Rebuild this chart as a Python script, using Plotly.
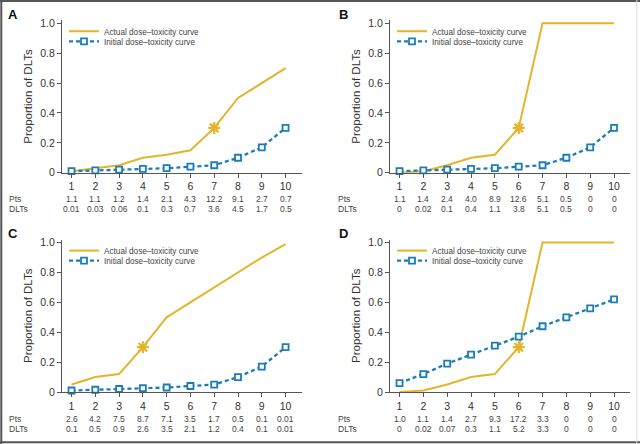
import plotly.graph_objects as go

doses = [1, 2, 3, 4, 5, 6, 7, 8, 9, 10]

actual_A = [0.01, 0.03, 0.05, 0.10, 0.12, 0.15, 0.30, 0.50, 0.60, 0.70]
initial_A = [0.01, 0.015, 0.02, 0.025, 0.03, 0.04, 0.05, 0.10, 0.17, 0.30]
pts_A = ["1.1", "1.1", "1.2", "1.4", "2.1", "4.3", "12.2", "9.1", "2.7", "0.7"]
dlts_A = ["0.01", "0.03", "0.06", "0.1", "0.3", "0.7", "3.6", "4.5", "1.7", "0.5"]
mtd_A = 7

actual_B = [0.0, 0.01, 0.05, 0.10, 0.12, 0.30, 1.0, 1.0, 1.0, 1.0]
initial_B = [0.01, 0.015, 0.02, 0.025, 0.03, 0.04, 0.05, 0.10, 0.17, 0.30]
pts_B = ["1.1", "1.4", "2.4", "4.0", "8.9", "12.6", "5.1", "0.5", "0", "0"]
dlts_B = ["0", "0.02", "0.1", "0.4", "1.1", "3.8", "5.1", "0.5", "0", "0"]
mtd_B = 6

actual_C = [0.05, 0.10, 0.12, 0.30, 0.50, 0.60, 0.70, 0.80, 0.90, 0.99]
initial_C = [0.01, 0.015, 0.02, 0.025, 0.03, 0.04, 0.05, 0.10, 0.17, 0.30]
pts_C = ["2.6", "4.2", "7.5", "8.7", "7.1", "3.5", "1.7", "0.5", "0.1", "0.01"]
dlts_C = ["0.1", "0.5", "0.9", "2.6", "3.5", "2.1", "1.2", "0.4", "0.1", "0.01"]
mtd_C = 4

actual_D = [0.0, 0.01, 0.05, 0.10, 0.12, 0.30, 1.0, 1.0, 1.0, 1.0]
initial_D = [0.06, 0.12, 0.19, 0.25, 0.31, 0.37, 0.44, 0.50, 0.56, 0.62]
pts_D = ["1.0", "1.1", "1.4", "2.7", "9.3", "17.2", "3.3", "0", "0", "0"]
dlts_D = ["0", "0.02", "0.07", "0.3", "1.1", "5.2", "3.3", "0", "0", "0"]
mtd_D = 6

panel_letters = ["A", "B", "C", "D"]
legend_actual = "Actual dose–toxicity curve"
legend_initial = "Initial dose–toxicity curve"
y_title = "Proportion of DLTs"
ytick_vals = [0, 0.2, 0.4, 0.6, 0.8, 1.0]
ytick_text = ["0", "0.2", "0.4", "0.6", "0.8", "1.0"]

GOLD = "#E3B52B"
BLUE = "#1B7DB6"
AXC = "#555555"
TXT = "#333333"
W, H = 640, 444

panels = [
    dict(actual=actual_A, initial=initial_A, pts=pts_A, dlts=dlts_A, mtd=mtd_A,
         left=62, right=301.5, bottom=172.7, label_x=7, letter_xy=(13, 15)),
    dict(actual=actual_B, initial=initial_B, pts=pts_B, dlts=dlts_B, mtd=mtd_B,
         left=390, right=630, bottom=172.7, label_x=336, letter_xy=(343, 14)),
    dict(actual=actual_C, initial=initial_C, pts=pts_C, dlts=dlts_C, mtd=mtd_C,
         left=62, right=301.5, bottom=392, label_x=7, letter_xy=(13, 233)),
    dict(actual=actual_D, initial=initial_D, pts=pts_D, dlts=dlts_D, mtd=mtd_D,
         left=390, right=630, bottom=392, label_x=336, letter_xy=(343, 233)),
]

PX_PER_UNIT = 149.4
YMAX = 1.02

fig = go.Figure()
annotations = []
layout = dict(
    width=W, height=H, margin=dict(l=0, r=0, t=0, b=0, autoexpand=False),
    paper_bgcolor="white", plot_bgcolor="white",
    font=dict(family="Arial, Liberation Sans, sans-serif", color=TXT),
    showlegend=True,
)

for i, p in enumerate(panels):
    n = i + 1
    xa = "x" if n == 1 else f"x{n}"
    ya = "y" if n == 1 else f"y{n}"
    la = "legend" if n == 1 else f"legend{2 * n - 1}"
    lb = f"legend{2 * n}"
    top = p["bottom"] - YMAX * PX_PER_UNIT
    dom_x = [p["left"] / W, p["right"] / W]
    dom_y = [1 - p["bottom"] / H, 1 - top / H]

    fig.add_trace(go.Scatter(
        x=doses, y=p["actual"], mode="lines", name=legend_actual,
        line=dict(color=GOLD, width=2), cliponaxis=False,
        xaxis=xa, yaxis=ya, legend=la))
    fig.add_trace(go.Scatter(
        x=doses, y=p["initial"], mode="lines+markers", name=legend_initial,
        line=dict(color=BLUE, width=2.3, dash="4px,3px"),
        marker=dict(symbol="square", size=6, color="white",
                    line=dict(color=BLUE, width=1.8)),
        cliponaxis=False, xaxis=xa, yaxis=ya, legend=lb))
    k = doses.index(p["mtd"])
    fig.add_trace(go.Scatter(
        x=[doses[k]], y=[p["actual"][k]], mode="markers", showlegend=False,
        marker=dict(symbol="asterisk-open", size=10, color=GOLD,
                    line=dict(color=GOLD, width=2.2)),
        cliponaxis=False, xaxis=xa, yaxis=ya))

    axis_common = dict(showline=True, linecolor=AXC, linewidth=1.2,
                       ticks="outside", ticklen=4, tickcolor=AXC,
                       showgrid=False, zeroline=False,
                       tickfont=dict(size=10.5, color=TXT))
    layout["xaxis" if n == 1 else f"xaxis{n}"] = dict(
        axis_common, domain=dom_x, range=[0.6, 10.67], anchor=ya,
        tickvals=doses, ticktext=[str(d) for d in doses])
    layout["yaxis" if n == 1 else f"yaxis{n}"] = dict(
        axis_common, domain=dom_y, range=[0, YMAX], anchor=xa,
        tickvals=ytick_vals, ticktext=ytick_text,
        title=dict(text=y_title, font=dict(size=11.5, color=TXT), standoff=5))

    leg_x = (p["left"] + 2) / W
    for j, lg in enumerate([la, lb]):
        ypx = top - 3.5 + j * 10
        layout[lg] = dict(x=leg_x, y=1 - ypx / H, xanchor="left", yanchor="top",
                          bgcolor="rgba(0,0,0,0)", borderwidth=0,
                          font=dict(size=8.2, color="#444444"),
                          itemwidth=30, tracegroupgap=0)

    row_pts = p["bottom"] + 26.5
    row_dlt = p["bottom"] + 36.5
    for lab, ypx in (("Pts", row_pts), ("DLTs", row_dlt)):
        annotations.append(dict(text=lab, xref="paper", yref="paper",
                                x=p["label_x"] / W, y=1 - ypx / H,
                                xanchor="left", yanchor="middle", showarrow=False,
                                font=dict(size=8.5, color="#444444")))
    for d, pv, dv in zip(doses, p["pts"], p["dlts"]):
        for txt, ypx in ((pv, row_pts), (dv, row_dlt)):
            annotations.append(dict(text=txt, xref=xa, yref="paper",
                                    x=d, y=1 - ypx / H, xanchor="center",
                                    yanchor="middle", showarrow=False,
                                    font=dict(size=8.5, color="#444444")))
    lx, ly = p["letter_xy"]
    annotations.append(dict(text=f"<b>{panel_letters[i]}</b>", xref="paper", yref="paper",
                            x=lx / W, y=1 - ly / H, xanchor="center", yanchor="middle",
                            showarrow=False, font=dict(size=13, color="#111111")))

layout["annotations"] = annotations
layout["shapes"] = [
    dict(type="line", xref="paper", yref="paper", x0=0.002, x1=0.002, y0=0, y1=1,
         line=dict(color="#555555", width=2)),
    dict(type="line", xref="paper", yref="paper", x0=0, x1=1, y0=0.998, y1=0.998,
         line=dict(color="#555555", width=2)),
    dict(type="line", xref="paper", yref="paper", x0=0, x1=1, y0=0.004, y1=0.004,
         line=dict(color="#555555", width=2)),
    dict(type="line", xref="paper", yref="paper", x0=0.995, x1=0.995, y0=0, y1=1,
         line=dict(color="#dddddd", width=1)),
]
fig.update_layout(**layout)
fig.write_html("out.html", config={"displayModeBar": False},
               post_script="document.body.style.margin='0px';")
